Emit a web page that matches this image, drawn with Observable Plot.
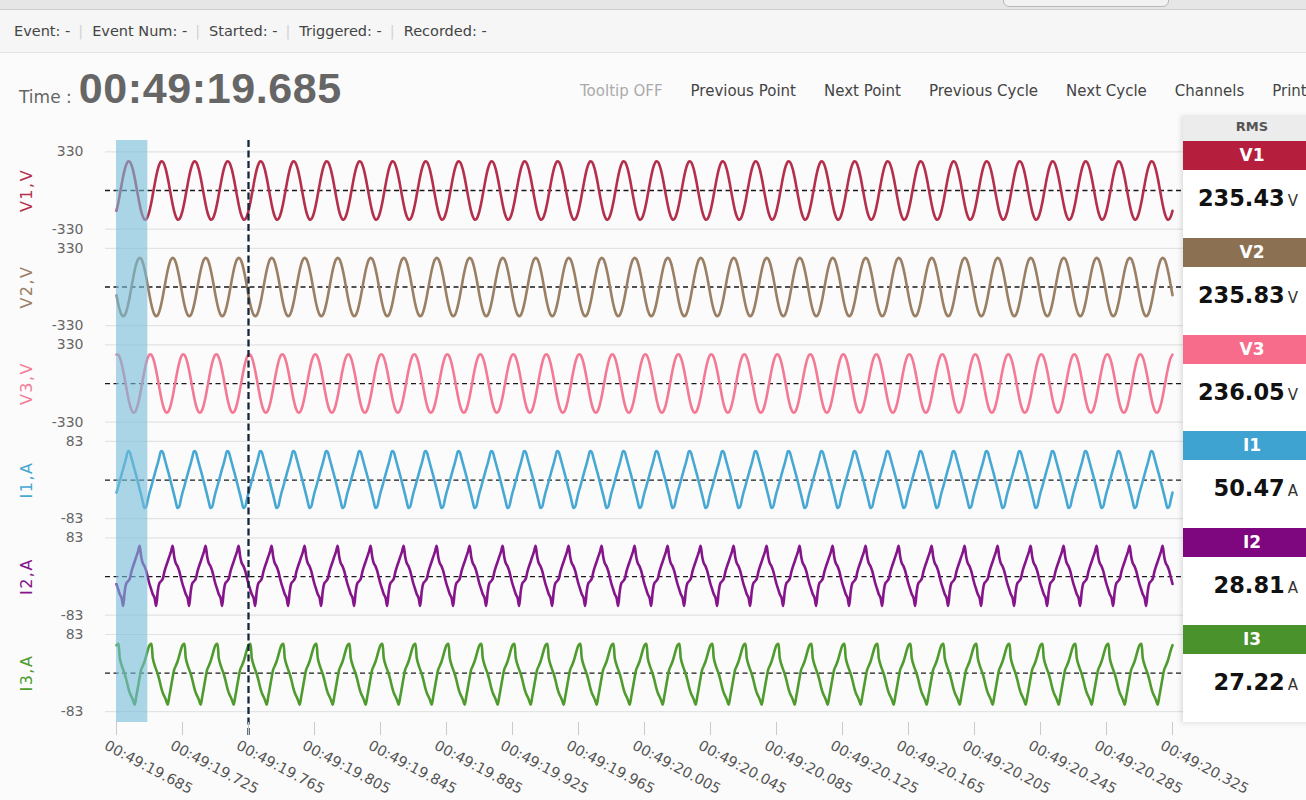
<!DOCTYPE html>
<html><head><meta charset="utf-8">
<script src="https://cdn.jsdelivr.net/npm/d3@7"></script>
<script src="https://cdn.jsdelivr.net/npm/@observablehq/plot@0.6"></script>
<style>
html,body{margin:0;padding:0}
body{width:1306px;height:800px;overflow:hidden;background:#fbfbfb;font-family:"DejaVu Sans",sans-serif;position:relative}
.abs{position:absolute}
#topbar{left:0;top:0;width:1306px;height:9px;background:#e6e6e6;border-bottom:1px solid #cdcdcd}
#dropdown{left:1003px;top:-8px;width:164px;height:13px;background:#f2f2f2;border:1px solid #b8b8b8;border-radius:0 0 6px 6px}
#infobar{left:0;top:10px;width:1306px;height:42px;background:#f6f6f6;border-bottom:1px solid #e4e4e4}
#info{left:14px;top:22px;font-size:14.5px;color:#444;white-space:nowrap;line-height:18px}
#info .sep{color:#d2d2d2;margin:0 9px 0 8px}
#time{left:19px;top:64px;white-space:nowrap;display:flex;align-items:baseline;color:#666}
#time .lbl{font-size:17px}
#time .val{font-family:"Liberation Sans",Arial,sans-serif;font-weight:bold;font-size:43px;letter-spacing:0.6px;margin-left:7px}
#buttons{left:580px;top:82px;white-space:nowrap;font-size:15px;line-height:18px;color:#444}
#buttons span{margin-right:28px}
#buttons span.off{color:#aaa}
#chart{left:0;top:130px}
#rms{left:1183px;top:115px;width:138px;height:607px;background:#fff;box-shadow:-2px 1px 5px rgba(0,0,0,0.12)}
#rms .head{height:26px;background:#ececec;color:#555;font-weight:bold;font-size:13px;text-align:center;line-height:24px}
#rms .block{height:96.8px}
#rms .badge{height:29px;color:#fff;font-weight:bold;font-size:17px;text-align:center;line-height:29px}
#rms .value{text-align:right;padding-right:23px;padding-top:15px;white-space:nowrap;color:#111}
#rms .num{font-weight:bold;font-size:22.5px}
#rms .unit{font-size:15px;color:#333;margin-left:3px}
</style></head>
<body>
<div id="topbar" class="abs"></div>
<div id="dropdown" class="abs"></div>
<div id="infobar" class="abs"></div>
<div id="info" class="abs"></div>
<div id="time" class="abs"></div>
<div id="buttons" class="abs"></div>
<div id="chart" class="abs"></div>
<div id="rms" class="abs"></div>
<script>
// ---------- data ----------
const infoItems = ["Event: -", "Event Num: -", "Started: -", "Triggered: -", "Recorded: -"];
const timeLabel = "Time :";
const timeValue = "00:49:19.685";
const buttonLabels = ["Tooltip OFF", "Previous Point", "Next Point", "Previous Cycle", "Next Cycle", "Channels", "Print"];

const channelNames = ["V1", "V2", "V3", "I1", "I2", "I3"];
const axisTitles = ["V1,V", "V2,V", "V3,V", "I1,A", "I2,A", "I3,A"];
const axisMax = [330, 330, 330, 83, 83, 83];
const lineColors = ["#b42f4c", "#9a7f64", "#f27a95", "#48a8d4", "#85158a", "#4f9b2f"];
const badgeColors = ["#b51f3d", "#8b7152", "#f66c8a", "#3ea3d1", "#7e067e", "#4a922c"];
const rmsValues = ["235.43", "235.83", "236.05", "50.47", "28.81", "27.22"];
const rmsUnits = ["V", "V", "V", "A", "A", "A"];

const cycleV1 = [-174, -110, -35, 43, 117, 180, 224, 248, 246, 221, 174, 110, 35, -43, -117, -180, -224, -248, -246, -221];
const cycleV2 = [-70, -141, -198, -235, -250, -240, -207, -153, -85, -8, 70, 141, 198, 235, 250, 240, 207, 153, 85, 8];
const cycleV3 = [247, 247, 223, 177, 114, 39, -39, -114, -177, -223, -247, -247, -223, -177, -114, -39, 39, 114, 177, 223];
const cycleI1 = [-27, -15, -2, 11, 24, 36, 50, 62, 60, 48, 35, 22, 9, -5, -19, -33, -48, -60, -57, -42];
const cycleI2 = [-16, -27, -38, -45, -63, -32, -14, -10, -5, 10, 22, 32, 43, 53, 66, 42, 28, 22, 12, -2];
const cycleI3 = [60, 63, 32, 18, 8, -2, -15, -30, -42, -50, -58, -68, -50, -30, -10, 8, 16, 25, 37, 50];
const cycleCount = 32;

const xTickMs = [0, 40, 80, 120, 160, 200, 240, 280, 320, 360, 400, 440, 480, 520, 560, 600, 640];
const xTickLabels = ["00:49:19.685", "00:49:19.725", "00:49:19.765", "00:49:19.805", "00:49:19.845", "00:49:19.885",
  "00:49:19.925", "00:49:19.965", "00:49:20.005", "00:49:20.045", "00:49:20.085", "00:49:20.125", "00:49:20.165",
  "00:49:20.205", "00:49:20.245", "00:49:20.285", "00:49:20.325"];
const cursorMs = 80;
const highlightMs = [0, 19];

// ---------- header ----------
const info = document.getElementById("info");
infoItems.forEach((t, i) => {
  if (i) { const s = document.createElement("span"); s.className = "sep"; s.textContent = "|"; info.appendChild(s); }
  const s = document.createElement("span"); s.textContent = t; info.appendChild(s);
});
document.getElementById("time").innerHTML = `<span class="lbl">${timeLabel}</span><span class="val">${timeValue}</span>`;
const btn = document.getElementById("buttons");
buttonLabels.forEach((t, i) => { const s = document.createElement("span"); s.textContent = t; if (i === 0) s.className = "off"; btn.appendChild(s); });

// ---------- RMS panel ----------
const rms = document.getElementById("rms");
rms.innerHTML = `<div class="head">RMS</div>` + channelNames.map((n, i) =>
  `<div class="block"><div class="badge" style="background:${badgeColors[i]}">${n}</div>` +
  `<div class="value"><span class="num">${rmsValues[i]}</span><span class="unit">${rmsUnits[i]}</span></div></div>`).join("");

// ---------- chart ----------
const cycles = [cycleV1, cycleV2, cycleV3, cycleI1, cycleI2, cycleI3];
const pitch = 2.5;
const yOf = (ch, v) => -pitch * ch + v / axisMax[ch];
const series = cycles.map((cyc, ch) =>
  d3.range(cycleCount * cyc.length + 1).map(k => ({t: k, v: cyc[k % cyc.length], ch})));

const gridRows = channelNames.flatMap((n, ch) => [yOf(ch, axisMax[ch]), yOf(ch, -axisMax[ch])]);
const zeroRows = channelNames.map((n, ch) => yOf(ch, 0));
const yTickRows = channelNames.flatMap((n, ch) => [
  {y: yOf(ch, axisMax[ch]), label: String(axisMax[ch])},
  {y: yOf(ch, -axisMax[ch]), label: "-" + axisMax[ch]}]);
const titleRows = channelNames.map((n, ch) => ({y: yOf(ch, 0), label: axisTitles[ch], color: lineColors[ch]}));

const chart = Plot.plot({
  width: 1183, height: 670,
  marginLeft: 116, marginRight: 11, marginTop: 10, marginBottom: 78,
  x: {domain: [0, 640], axis: null, label: null},
  y: {domain: [-13.78, 1.295], axis: null},
  color: {type: "identity"},
  style: {fontFamily: "DejaVu Sans", background: "transparent", overflow: "visible"},
  marks: [
    Plot.ruleY(gridRows, {stroke: "#e3e3e3", strokeWidth: 1.2, insetLeft: -11, insetRight: -11}),
    Plot.ruleY(zeroRows, {stroke: "#1a1a1a", strokeWidth: 1.3, strokeDasharray: "5,3.5", insetLeft: -11, insetRight: -11}),
    ...series.map((s, ch) => Plot.line(s, {x: "t", y: d => yOf(d.ch, d.v), stroke: lineColors[ch], strokeWidth: 2.6, curve: "catmull-rom"})),
    Plot.rect([highlightMs], {x1: d => d[0], x2: d => d[1], fill: "#74bcd9", fillOpacity: 0.6}),
    Plot.ruleX([cursorMs], {stroke: "#16263a", strokeWidth: 2.3, strokeDasharray: "7,3.5", insetBottom: -13}),
    Plot.text(yTickRows, {y: "y", text: "label", frameAnchor: "left", textAnchor: "end", dx: -33, fill: "#666", fontSize: 14}),
    Plot.text(titleRows, {y: "y", text: "label", frameAnchor: "left", textAnchor: "middle", dx: -90, rotate: -90, fill: "color", fontSize: 16}),
    // tick marks
    Plot.axisX(xTickMs, {tickFormat: () => "", tickSize: 13, label: null, stroke: "#c9c9c9"}),
    // rotated tick labels
    Plot.axisX(xTickMs, {tickFormat: d => xTickLabels[xTickMs.indexOf(d)], tickSize: 0, tickPadding: 16, label: null,
      tickRotate: 28, textAnchor: "start", fill: "#555", fontSize: 14.5, dx: -11, dy: 6})
  ]
});
d3.select(chart).selectAll("text").filter(function() { return axisTitles.includes(this.textContent); })
  .style("letter-spacing", "1.5px");
document.getElementById("chart").appendChild(chart);
</script>
</body></html>
